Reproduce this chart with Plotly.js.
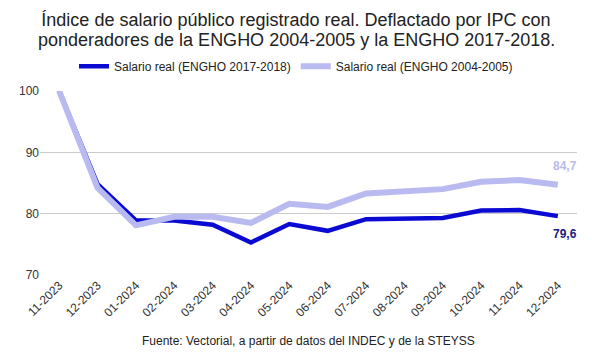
<!DOCTYPE html>
<html><head><meta charset="utf-8">
<script src="https://cdn.plot.ly/plotly-3.0.1.min.js"></script>
<style>html,body{margin:0;padding:0;background:#fff}</style>
</head><body>
<div id="chart" style="width:592px;height:358px"></div>
<script>
const months = ["11-2023","12-2023","01-2024","02-2024","03-2024","04-2024","05-2024","06-2024","07-2024","08-2024","09-2024","10-2024","11-2024","12-2024"];
const salario2017 = [100, 84.8, 78.9, 78.9, 78.2, 75.3, 78.3, 77.2, 79.1, 79.2, 79.3, 80.5, 80.6, 79.6];
const salario2004 = [100, 84.2, 78.1, 79.5, 79.5, 78.5, 81.6, 81.1, 83.3, 83.6, 84.0, 85.2, 85.5, 84.7];
const yTicks = [70, 80, 90, 100];
const titleLine1 = "Índice de salario público registrado real. Deflactado por IPC con";
const titleLine2 = "ponderadores de la ENGHO 2004-2005 y la ENGHO 2017-2018.";

const darkCol = "#0a0ad2";
const lightCol = "#b9bbf0";
const fmt = v => v.toFixed(1).replace(".", ",");
const last = months.length - 1;
const W = 592, ML = 40, MR = 15;
const midPaper = (W / 2 - ML) / (W - ML - MR);

const traces = [
  {x: months, y: salario2017, type: "scatter", mode: "lines", name: "Salario real (ENGHO 2017-2018)",
   line: {color: darkCol, width: 4.5}},
  {x: months, y: salario2004, type: "scatter", mode: "lines", name: "Salario real (ENGHO 2004-2005)",
   line: {color: lightCol, width: 6}}
];

const layout = {
  width: W, height: 358,
  margin: {l: ML, r: MR, t: 91, b: 83},
  paper_bgcolor: "#fff", plot_bgcolor: "#fff",
  font: {family: "Liberation Sans, Arial, sans-serif", size: 12, color: "#222"},
  title: {text: titleLine1,
          font: {size: 18, color: "#222"}, x: 0.5, xanchor: "center", yref: "container", y: 1 - 20/358, yanchor: "middle"},
  showlegend: true,
  legend: {orientation: "h", x: midPaper, xanchor: "center", y: 1.135, yanchor: "middle",
           font: {size: 12, color: "#222"}},
  xaxis: {type: "category", range: [-0.5, last + 0.5], tickangle: -45, showgrid: false,
          zeroline: false, showline: false, ticks: "", tickfont: {size: 12, color: "#333"}, automargin: false},
  yaxis: {range: [70, 100], tickvals: yTicks, showgrid: true, gridcolor: "#cccccc", gridwidth: 1,
          zeroline: false, showline: false, ticks: "", tickfont: {size: 12, color: "#333"}, automargin: false},
  annotations: [
    {xref: "paper", yref: "paper", x: midPaper, y: 1, yshift: 51, xanchor: "center", yanchor: "middle",
     text: titleLine2, showarrow: false, font: {size: 18, color: "#222"}},
    {x: months[last], y: salario2004[last], text: fmt(salario2004[last]), showarrow: false,
     xanchor: "center", yanchor: "bottom", xshift: 7, yshift: 10,
     font: {size: 12, color: "#b9bbe8", family: "Liberation Sans, Arial, sans-serif", weight: "bold"}},
    {x: months[last], y: salario2017[last], text: "<b>" + fmt(salario2017[last]) + "</b>", showarrow: false,
     xanchor: "center", yanchor: "top", xshift: 7, yshift: -9,
     font: {size: 12, color: "#1a1a80", family: "Liberation Sans, Arial, sans-serif"}},
    {xref: "paper", yref: "paper", x: 0.5, y: 0, yshift: -66, xanchor: "center", yanchor: "middle",
     text: "Fuente: Vectorial, a partir de datos del INDEC y de la STEYSS", showarrow: false,
     font: {size: 12, color: "#222"}}
  ]
};

Plotly.newPlot("chart", traces, layout, {displayModeBar: false, staticPlot: true});
</script>
</body></html>
